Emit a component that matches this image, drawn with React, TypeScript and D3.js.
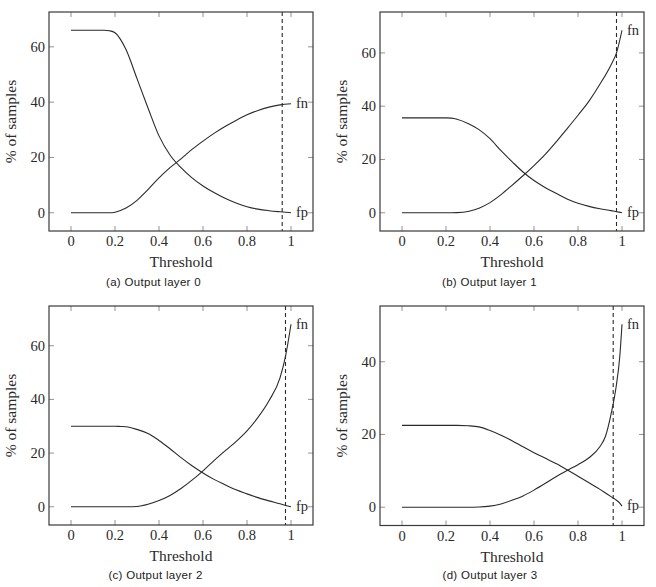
import React from 'react';
import * as d3 from 'd3';

// ---------- data ----------
const X_TICKS = [0, 0.2, 0.4, 0.6, 0.8, 1];
const X_TICK_LABELS = ['0', '0.2', '0.4', '0.6', '0.8', '1'];
const Y_TICKS_ABC = [0, 20, 40, 60];
const Y_TICKS_D = [0, 20, 40];

const THRESH_A = [0, 0.05, 0.1, 0.15, 0.175, 0.2, 0.225, 0.25, 0.3, 0.35, 0.4, 0.45, 0.5, 0.55, 0.6, 0.65, 0.7, 0.75, 0.8, 0.85, 0.9, 0.95, 1];
const FP_A = [66, 66, 66, 66, 65.8, 65.1, 62.7, 59, 48.5, 37.9, 27.8, 20.9, 16.3, 12.6, 9.7, 7.3, 5.2, 3.5, 2.2, 1.3, 0.75, 0.35, 0];
const FN_A = [0, 0, 0, 0, 0, 0.2, 0.8, 1.7, 4.5, 8.4, 12.6, 16.3, 19.5, 22.9, 25.9, 28.7, 31.2, 33.4, 35.4, 37, 38.2, 39, 39.4];

const THRESH_B = [0, 0.05, 0.1, 0.15, 0.2, 0.225, 0.25, 0.3, 0.35, 0.4, 0.45, 0.5, 0.55, 0.6, 0.65, 0.7, 0.75, 0.8, 0.85, 0.9, 0.95, 0.975, 1];
const FP_B = [35.6, 35.6, 35.6, 35.6, 35.6, 35.5, 35.1, 33.5, 31.2, 27.8, 23.3, 19.2, 15.3, 12.1, 9.5, 7.3, 5.2, 3.6, 2.4, 1.5, 0.8, 0.4, 0];
const FN_B = [0, 0, 0, 0, 0, 0, 0.05, 0.5, 1.7, 3.8, 6.8, 10.3, 13.9, 17.7, 21.8, 26.5, 31.5, 36.6, 41.9, 48.3, 55.5, 60, 68.5];

const THRESH_C = [0, 0.05, 0.1, 0.15, 0.2, 0.225, 0.25, 0.3, 0.35, 0.4, 0.45, 0.5, 0.55, 0.6, 0.65, 0.7, 0.75, 0.8, 0.85, 0.9, 0.95, 0.975, 1];
const FP_C = [30, 30, 30, 30, 30, 29.9, 29.8, 28.8, 27.3, 24.7, 21.6, 18.3, 15.3, 12.6, 10.2, 8.2, 6.3, 4.8, 3.4, 2.2, 1.1, 0.5, 0];
const FN_C = [0, 0, 0, 0, 0, 0, 0, 0.1, 0.9, 2.3, 4.2, 6.8, 9.9, 13.4, 17.2, 20.8, 24.3, 28.3, 33.3, 39.5, 48, 56, 68];

const THRESH_D = [0, 0.05, 0.1, 0.15, 0.2, 0.25, 0.3, 0.35, 0.4, 0.45, 0.5, 0.55, 0.6, 0.65, 0.7, 0.75, 0.8, 0.85, 0.9, 0.925, 0.95, 0.975, 0.99, 1];
const FP_D = [22.5, 22.5, 22.5, 22.5, 22.5, 22.5, 22.4, 22.1, 21.1, 19.8, 18.3, 16.6, 15.0, 13.5, 12.0, 10.3, 8.5, 6.7, 4.9, 3.9, 2.9, 1.9, 1.1, 0.3];
const FN_D = [0, 0, 0, 0, 0, 0, 0, 0.05, 0.3, 0.9, 1.9, 3.1, 4.7, 6.5, 8.4, 10.1, 11.7, 13.6, 16.7, 19.5, 25.5, 33.8, 41.5, 50.3];

const CUTOFFS = [0.96, 0.975, 0.975, 0.96];
const CAPTIONS = ['(a) Output layer 0', '(b) Output layer 1', '(c) Output layer 2', '(d) Output layer 3'];
const SERIES_LABELS = ['fn', 'fp'];
const X_LABEL = 'Threshold';
const Y_LABEL = '% of samples';

// ---------- layout ----------
const SERIF = '"Liberation Serif", "Times New Roman", serif';
const SANS = '"Liberation Sans", Arial, sans-serif';
const FRAME = '#3a3a3a';
const INK = '#2a2a2a';

type Box = { left: number; right: number; top: number; bottom: number };

function Panel(props: {
  box: Box;
  thresholds: number[];
  fn: number[];
  fp: number[];
  yTicks: number[];
  cutoff: number;
  caption: string;
  capX: number;
  capY: number;
}) {
  const { box, thresholds, fn, fp, yTicks, cutoff, caption, capX, capY } = props;
  const x = d3.scaleLinear().domain([-0.1, 1.1]).range([box.left, box.right]);
  const all = fn.concat(fp);
  const lo = d3.min(all) as number;
  const hi = d3.max(all) as number;
  const pad = (hi - lo) * 0.1;
  const y = d3.scaleLinear().domain([lo - pad, hi + pad]).range([box.bottom, box.top]);
  const line = d3
    .line<number>()
    .x((_, i) => x(thresholds[i]))
    .y((d) => y(d))
    .curve(d3.curveMonotoneX);
  const tl = 5;
  const last = thresholds[thresholds.length - 1];
  const midX = (box.left + box.right) / 2;
  const midY = (box.top + box.bottom) / 2;
  return (
    <g>
      {X_TICKS.map((t) => (
        <g key={'xt' + t}>
          <line x1={x(t)} x2={x(t)} y1={box.bottom} y2={box.bottom - tl} stroke="#777" strokeWidth={0.8} />
          <line x1={x(t)} x2={x(t)} y1={box.top} y2={box.top + tl} stroke="#777" strokeWidth={0.8} />
        </g>
      ))}
      {yTicks.map((t) => (
        <g key={'yt' + t}>
          <line x1={box.left} x2={box.left + tl} y1={y(t)} y2={y(t)} stroke="#777" strokeWidth={0.8} />
          <line x1={box.right} x2={box.right - tl} y1={y(t)} y2={y(t)} stroke="#777" strokeWidth={0.8} />
        </g>
      ))}
      <path d={line(fp) || ''} fill="none" stroke={INK} strokeWidth={1.1} />
      <path d={line(fn) || ''} fill="none" stroke={INK} strokeWidth={1.1} />
      <line x1={x(cutoff)} x2={x(cutoff)} y1={box.top} y2={box.bottom} stroke={INK} strokeWidth={1.1} strokeDasharray="4,3" />
      <rect x={box.left} y={box.top} width={box.right - box.left} height={box.bottom - box.top} fill="none" stroke={FRAME} strokeWidth={1.2} />
      <text x={x(last) + 5} y={y(fn[fn.length - 1])} dy="0.3em" fontFamily={SERIF} fontSize={14.5} fill={INK}>
        {SERIES_LABELS[0]}
      </text>
      <text x={x(last) + 5} y={y(fp[fp.length - 1])} dy="0.3em" fontFamily={SERIF} fontSize={14.5} fill={INK}>
        {SERIES_LABELS[1]}
      </text>
      {X_TICKS.map((t, i) => (
        <text key={'xl' + t} x={x(t)} y={box.bottom + 15} textAnchor="middle" fontFamily={SERIF} fontSize={14.5} fill={INK}>
          {X_TICK_LABELS[i]}
        </text>
      ))}
      {yTicks.map((t) => (
        <text key={'yl' + t} x={box.left - 4} y={y(t)} dy="0.33em" textAnchor="end" fontFamily={SERIF} fontSize={14.5} fill={INK}>
          {String(t)}
        </text>
      ))}
      <text x={midX} y={box.bottom + 36} textAnchor="middle" fontFamily={SERIF} fontSize={15.5} fill={INK}>
        {X_LABEL}
      </text>
      <text transform={`translate(${box.left - 33},${midY}) rotate(-90)`} textAnchor="middle" fontFamily={SERIF} fontSize={15.5} fill={INK}>
        {Y_LABEL}
      </text>
      <text x={capX} y={capY} textAnchor="middle" fontFamily={SANS} fontSize={11.5} letterSpacing={0.3} fill="#1a1a1a">
        {caption}
      </text>
    </g>
  );
}

export default function App() {
  const panels = [
    { box: { left: 49, right: 313, top: 12, bottom: 231 }, thresholds: THRESH_A, fn: FN_A, fp: FP_A, yTicks: Y_TICKS_ABC, capX: 153.5, capY: 285.5 },
    { box: { left: 380, right: 644, top: 12, bottom: 231 }, thresholds: THRESH_B, fn: FN_B, fp: FP_B, yTicks: Y_TICKS_ABC, capX: 489.5, capY: 285.5 },
    { box: { left: 49, right: 313, top: 306, bottom: 525 }, thresholds: THRESH_C, fn: FN_C, fp: FP_C, yTicks: Y_TICKS_ABC, capX: 155.5, capY: 579 },
    { box: { left: 380, right: 644, top: 306, bottom: 525.5 }, thresholds: THRESH_D, fn: FN_D, fp: FP_D, yTicks: Y_TICKS_D, capX: 490, capY: 579 },
  ];
  return (
    <svg width={656} height={587} style={{ position: 'absolute', left: 0, top: 0, background: '#fff' }}>
      <rect x={0} y={0} width={656} height={587} fill="#fff" />
      {panels.map((p, i) => (
        <Panel key={i} {...p} cutoff={CUTOFFS[i]} caption={CAPTIONS[i]} />
      ))}
    </svg>
  );
}
